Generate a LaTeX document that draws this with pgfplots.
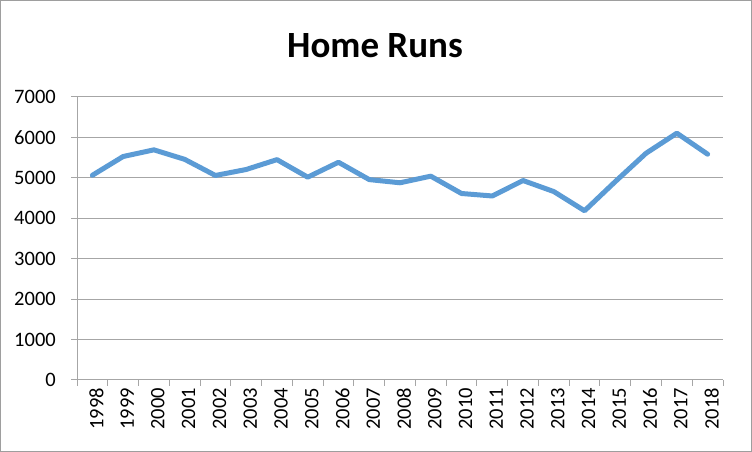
\documentclass[border=0pt]{standalone}
\usepackage{fontspec}
\setmainfont{Carlito}
\usepackage{pgfplots}
\pgfplotsset{compat=1.18}
\definecolor{hrblue}{HTML}{5B9BD5}
\definecolor{gridgray}{HTML}{A6A6A6}
\definecolor{framegray}{HTML}{9E9E9E}
\begin{document}
\begin{tikzpicture}[x=1pt,y=1pt]
\draw[framegray, line width=1pt] (0.5,0.5) rectangle (751.5,451.5);
\begin{axis}[
  at={(77pt,72pt)}, anchor=south west,
  scale only axis, width=646pt, height=283pt,
  xmin=-0.5, xmax=20.5, ymin=0, ymax=7000,
  axis lines*=left,
  axis line style={gridgray, line width=1pt},
  tick style={gridgray, line width=1pt},
  tick align=outside,
  xtick={0,...,20},
  xticklabels={1998,1999,2000,2001,2002,2003,2004,2005,2006,2007,2008,2009,2010,2011,2012,2013,2014,2015,2016,2017,2018},
  major x tick style={draw=none},
  minor xtick={-0.5,0.5,...,20.5},
  minor tick length=6pt, major tick length=6pt,
  ytick={0,1000,...,7000},
  ymajorgrids, grid style={gridgray, line width=1pt},
  scaled y ticks=false,
  /pgf/number format/assume math mode=true,
  yticklabel style={/pgf/number format/1000 sep={}, font=\fontsize{20.5}{23}\selectfont, inner sep=2pt, xshift=-13pt},
  xticklabel style={rotate=90, anchor=east, font=\fontsize{20.5}{23}\selectfont, inner sep=2pt, yshift=-4pt},
  title={\bfseries Home Runs},
  title style={font=\fontsize{37}{41}\selectfont, at={(0.5,1)}, anchor=base, yshift=33pt, xshift=-25pt},
  clip=false,
]
\addplot[hrblue, line width=5pt, line join=round, line cap=round] coordinates {
(0,5064) (1,5528) (2,5693) (3,5458) (4,5059) (5,5207) (6,5451) (7,5017)
(8,5386) (9,4957) (10,4878) (11,5042) (12,4613) (13,4552) (14,4934)
(15,4661) (16,4186) (17,4909) (18,5610) (19,6105) (20,5585)
};
\end{axis}
\end{tikzpicture}
\end{document}
